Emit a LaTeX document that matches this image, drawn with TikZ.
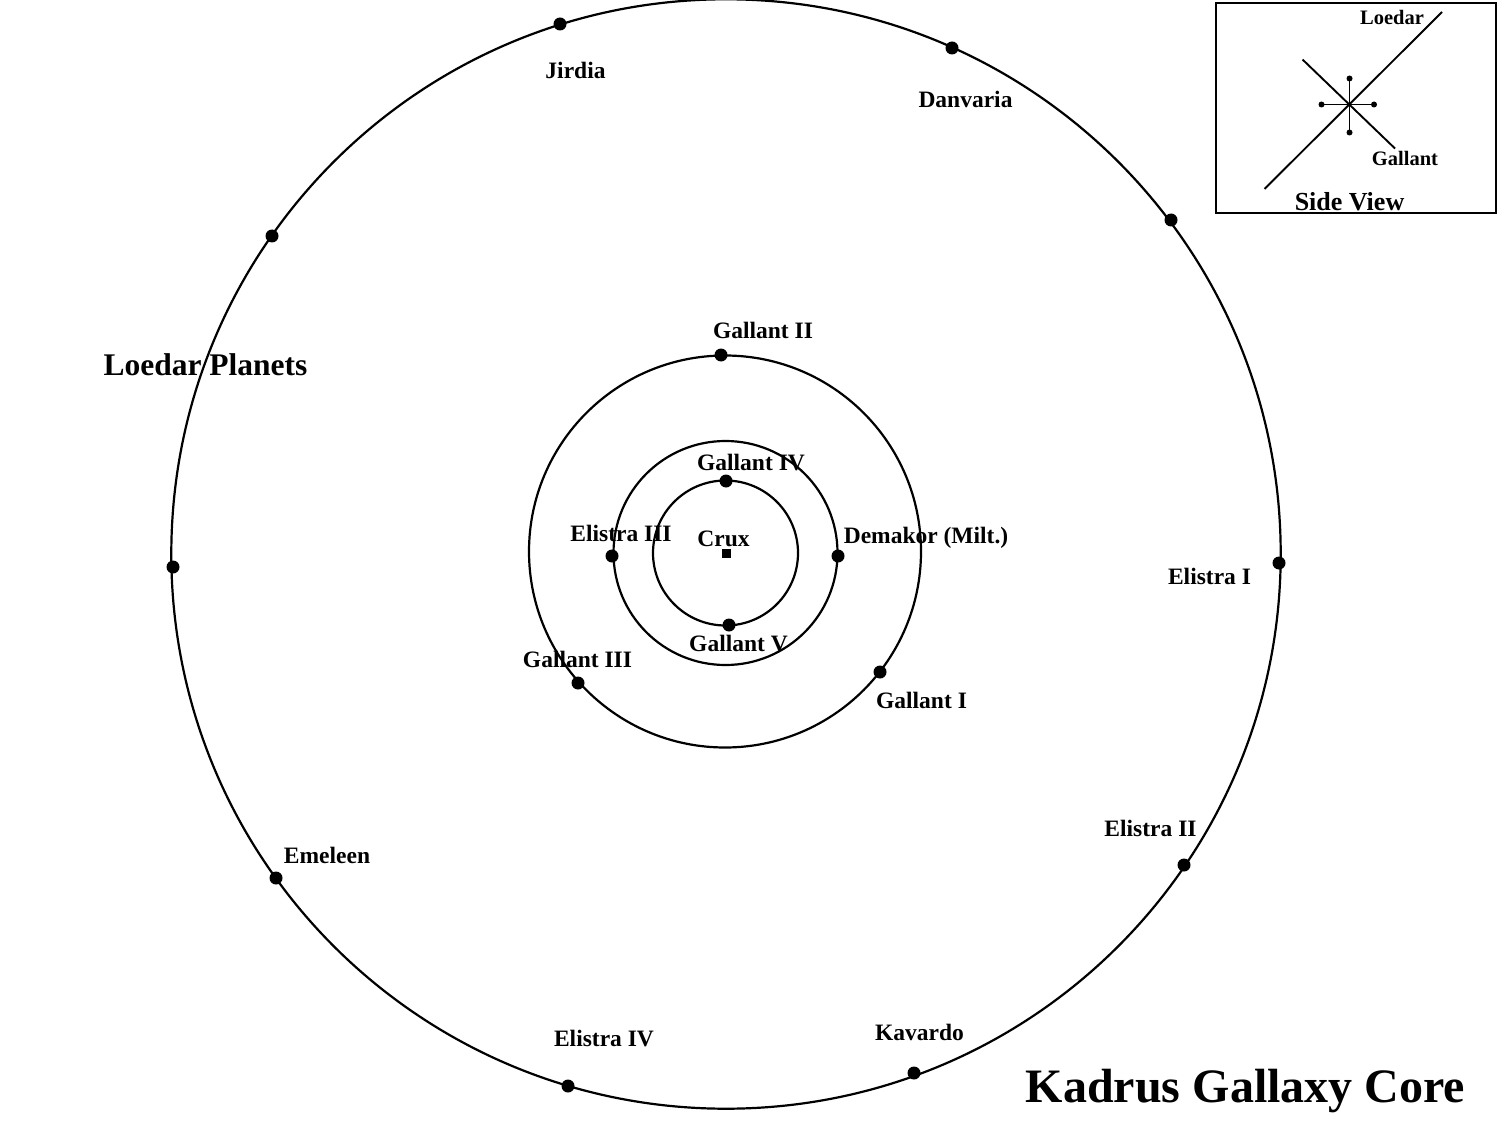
\documentclass[tikz,border=0pt]{standalone}
\usepackage{fontspec}
\setmainfont{Liberation Serif}
\begin{document}
\begin{tikzpicture}[x=1pt,y=-1pt,
  orbit/.style={draw=black,line width=2.2pt},
  planet/.style={circle,fill=black,inner sep=0pt,minimum size=13pt},
  tinydot/.style={circle,fill=black,inner sep=0pt,minimum size=6pt},
  lbl/.style={anchor=base,inner sep=0pt,font=\bfseries\fontsize{23.5}{28}\selectfont},
  boxlbl/.style={anchor=base,inner sep=0pt,font=\bfseries\fontsize{20.5}{24}\selectfont},
  bigtitle/.style={anchor=base,inner sep=0pt,font=\bfseries\fontsize{31.5}{36}\selectfont},
  hugetitle/.style={anchor=base,inner sep=0pt,font=\bfseries\fontsize{48}{52}\selectfont}]
\useasboundingbox (0,0) rectangle (1498,1123);
\clip (0,0) rectangle (1498,1123);

% orbits
\draw[orbit] (726,554) circle[radius=554.7];
\draw[orbit] (725,551.5) circle[radius=196];
\draw[orbit] (725.5,553) circle[radius=112];
\draw[orbit] (725.5,553) circle[radius=72.5];

% Crux
\node[fill=black,inner sep=0pt,minimum size=9pt] (crux) at (726,553) {};
\node[lbl] (cruxl) at (723.5,546.5) {Crux};

% outer planets
\node[planet] (pjir) at (560,24) {};
\node[planet] (pdan) at (952,48) {};
\node[planet] (pne) at (1171,220) {};
\node[planet] (pnw) at (272,236) {};
\node[planet] (pw) at (173,567) {};
\node[planet] (pel1) at (1279,563) {};
\node[planet] (pel2) at (1184,865) {};
\node[planet] (pem) at (276,878) {};
\node[planet] (pel4) at (568,1086) {};
\node[planet] (pkav) at (914,1073) {};

% inner planets
\node[planet] (pg2) at (721,355) {};
\node[planet] (pg4) at (726,481) {};
\node[planet] (pel3) at (612,556) {};
\node[planet] (pdem) at (838,556) {};
\node[planet] (pg5) at (729,625) {};
\node[planet] (pg3) at (578,683) {};
\node[planet] (pg1) at (880,672) {};

% labels
\node[lbl] (ljir) at (575.5,79) {Jirdia};
\node[lbl] (ldan) at (965.5,108) {Danvaria};
\node[lbl] (lg2) at (763,338) {Gallant II};
\node[lbl] (lg4) at (751,470) {Gallant IV};
\node[lbl] (lel3) at (621,541.5) {Elistra III};
\node[lbl] (ldem) at (926,543) {Demakor (Milt.)};
\node[lbl] (lel1) at (1209.5,584.5) {Elistra I};
\node[lbl] (lg5) at (738.5,651.5) {Gallant V};
\node[lbl] (lg3) at (577.5,667) {Gallant III};
\node[lbl] (lg1) at (921.5,708) {Gallant I};
\node[lbl] (lel2) at (1150.5,836.5) {Elistra II};
\node[lbl] (lem) at (327,863) {Emeleen};
\node[lbl] (lel4) at (604,1046) {Elistra IV};
\node[lbl] (lkav) at (919.5,1040.5) {Kavardo};
\node[bigtitle] (tloe) at (205.5,375.5) {Loedar Planets};
\node[hugetitle] (tkad) at (1245.5,1102) {Kadrus Gallaxy Core};

% side view
\draw[line width=2pt] (1216,3) rectangle (1495.5,213.5);
\coordinate (la) at (1264.5,189);
\coordinate (lb) at (1442,12);
\coordinate (ga) at (1302.5,59.5);
\coordinate (gb) at (1395,148.5);
\draw[line width=1.9pt] (la) -- (lb);
\draw[line width=1.9pt] (ga) -- (gb);
\node[tinydot] (su) at (1349.5,78.5) {};
\node[tinydot] (sd) at (1349.5,132.5) {};
\node[tinydot] (sl) at (1321.5,104.5) {};
\node[tinydot] (sr) at (1374,104.5) {};
\draw[line width=1.9pt] (su.center) -- (sd.center);
\draw[line width=1.9pt] (sl.center) -- (sr.center);
\node[boxlbl] (bl) at (1392,24.5) {Loedar};
\node[boxlbl] (bg) at (1405,165.5) {Gallant};
\node[lbl,font=\bfseries\fontsize{26}{30}\selectfont] (sv) at (1349.5,211) {Side View};
\end{tikzpicture}
\end{document}
